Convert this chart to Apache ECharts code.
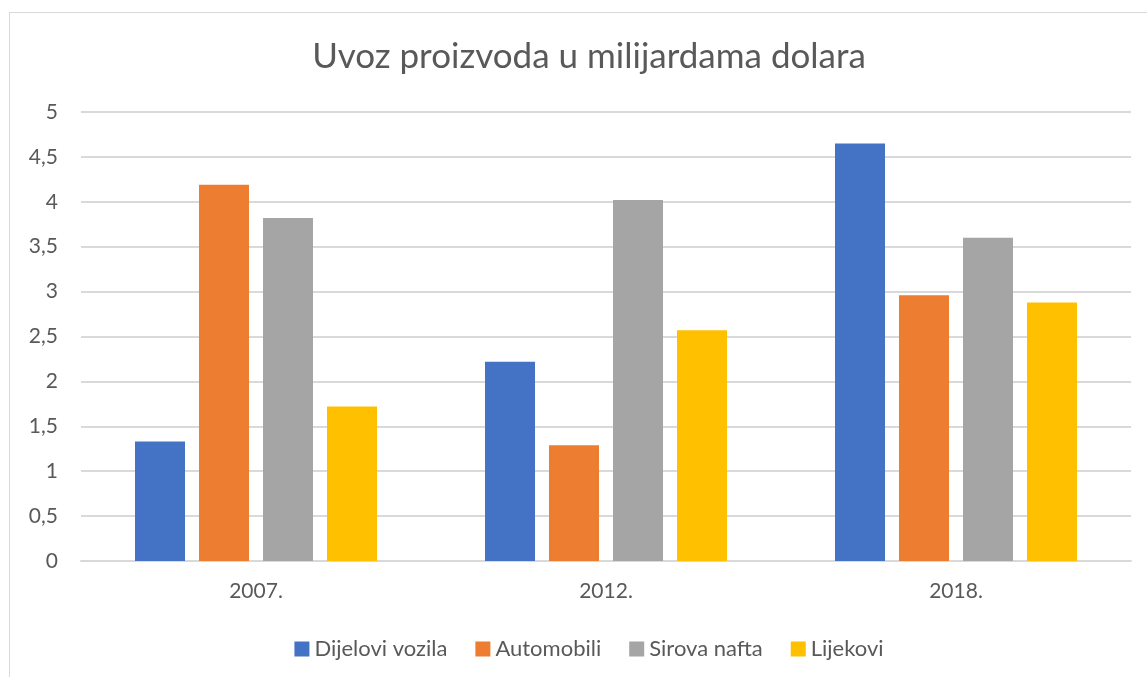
<!DOCTYPE html>
<html>
<head>
<meta charset="utf-8">
<script src="https://cdn.jsdelivr.net/npm/echarts@6/dist/echarts.min.js"></script>
<style>
html, body { margin: 0; padding: 0; background: #fff; overflow: hidden; }
#chart {
  position: absolute;
  left: 9px; top: 12px;
  width: 1160px; height: 680px;
  border: 1px solid #d9d9d9;
  box-sizing: border-box;
}
</style>
</head>
<body>
<div id="chart"></div>
<script>
var categories = ['2007.', '2012.', '2018.']
var seriesNames = ['Dijelovi vozila', 'Automobili', 'Sirova nafta', 'Lijekovi']
var dijeloviVozila = [1.33, 2.22, 4.65]
var automobili = [4.19, 1.29, 2.96]
var sirovaNafta = [3.82, 4.02, 3.60]
var lijekovi = [1.72, 2.57, 2.88]
var colors = ['#4472c4', '#ed7d31', '#a5a5a5', '#ffc000']

var chart = echarts.init(document.getElementById('chart'))
var font = 'Lato, "Noto Sans", sans-serif'

function bar (name, data, color) {
  return {
    name: name,
    type: 'bar',
    barWidth: 50,
    barGap: '28%',
    itemStyle: { color: color },
    data: data
  }
}

var option = {
  animation: false,
  textStyle: { fontFamily: font },
  title: {
    text: 'Uvoz proizvoda u milijardama dolara',
    left: 'center',
    top: 21,
    textStyle: { color: '#595959', fontSize: 35, fontWeight: 'normal', fontFamily: font }
  },
  legend: {
    data: seriesNames,
    top: 620,
    left: 'center',
    itemWidth: 15,
    itemHeight: 15,
    itemGap: 28,
    icon: 'rect',
    textStyle: { color: '#595959', fontSize: 22, fontFamily: font }
  },
  grid: {
    left: 71,
    right: 37,
    top: 99,
    bottom: 130
  },
  xAxis: {
    type: 'category',
    data: categories,
    axisLine: { lineStyle: { color: '#d9d9d9', width: 2 } },
    axisTick: { show: false },
    axisLabel: { color: '#595959', fontSize: 21, margin: 20, fontFamily: font }
  },
  yAxis: {
    type: 'value',
    min: 0,
    max: 5,
    interval: 0.5,
    axisLine: { show: false },
    axisTick: { show: false },
    splitLine: { lineStyle: { color: '#d9d9d9', width: 2 } },
    axisLabel: {
      color: '#595959',
      fontSize: 21,
      margin: 23,
      fontFamily: font,
      formatter: function (v) { return String(v).replace('.', ',') }
    }
  },
  series: [
    bar(seriesNames[0], dijeloviVozila, colors[0]),
    bar(seriesNames[1], automobili, colors[1]),
    bar(seriesNames[2], sirovaNafta, colors[2]),
    bar(seriesNames[3], lijekovi, colors[3])
  ]
}
chart.setOption(option)
</script>
</body>
</html>
